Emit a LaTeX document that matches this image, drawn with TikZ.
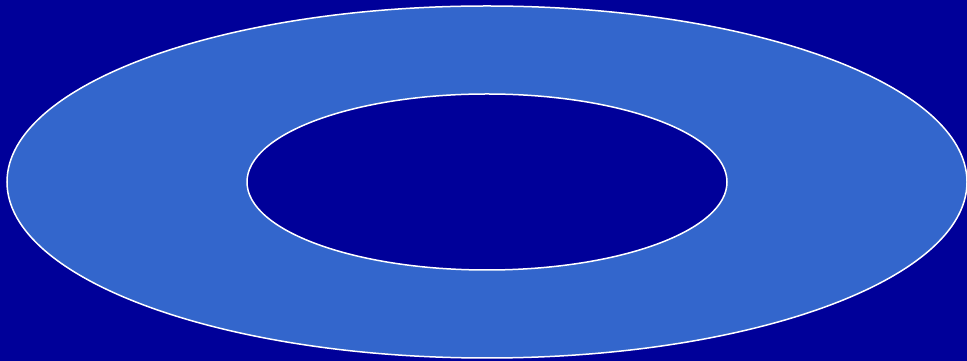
\documentclass[tikz,border=0pt]{standalone}
\definecolor{bgblue}{RGB}{0,0,153}
\definecolor{ringblue}{RGB}{51,102,204}
\begin{document}
\begin{tikzpicture}[x=1pt,y=1pt,
  ringline/.style={draw=white,line width=1.5pt}]
\fill[bgblue] (0,0) rectangle (967,361);
\useasboundingbox (0,0) rectangle (967,361);
\path[ringline,fill=ringblue] (487,179) ellipse [x radius=480, y radius=176];
\path[ringline,fill=bgblue] (487,179) ellipse [x radius=240, y radius=88];
\end{tikzpicture}
\end{document}
